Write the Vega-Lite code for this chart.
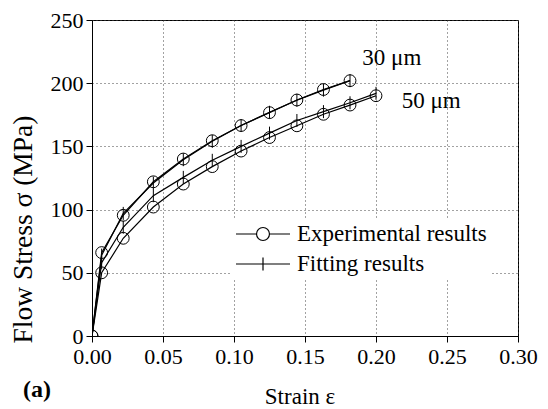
{
  "$schema": "https://vega.github.io/schema/vega-lite/v6.json",
  "width": 426,
  "height": 316,
  "autosize": {"type": "none"},
  "padding": {"left": 92, "top": 20, "right": 30, "bottom": 73},
  "background": "white",
  "config": {
    "view": {"stroke": "black", "strokeWidth": 1},
    "font": "Liberation Serif",
    "axis": {
      "labelFont": "Liberation Serif",
      "labelFontSize": 22,
      "labelColor": "black",
      "titleFont": "Liberation Serif",
      "titleFontWeight": "normal",
      "titleColor": "black",
      "domainColor": "black",
      "domainWidth": 1,
      "tickColor": "black",
      "tickWidth": 1,
      "grid": true,
      "gridColor": "#444444",
      "gridDash": [1, 3],
      "gridWidth": 1,
      "labelOverlap": false,
      "labelFlush": false
    }
  },
  "title": {
    "text": "(a)",
    "orient": "bottom",
    "anchor": "start",
    "frame": "group",
    "dx": -69,
    "offset": -30,
    "font": "Liberation Serif",
    "fontSize": 24,
    "fontWeight": "bold",
    "color": "black"
  },
  "data": {
    "values": [
      {"s": "30 μm", "t": "Experimental results", "x": 0, "y": 0},
      {"s": "30 μm", "t": "Experimental results", "x": 0.0068, "y": 66},
      {"s": "30 μm", "t": "Experimental results", "x": 0.022, "y": 95.5},
      {"s": "30 μm", "t": "Experimental results", "x": 0.0432, "y": 122},
      {"s": "30 μm", "t": "Experimental results", "x": 0.0643, "y": 140},
      {"s": "30 μm", "t": "Experimental results", "x": 0.0847, "y": 154.5},
      {"s": "30 μm", "t": "Experimental results", "x": 0.105, "y": 166.5},
      {"s": "30 μm", "t": "Experimental results", "x": 0.125, "y": 176.7},
      {"s": "30 μm", "t": "Experimental results", "x": 0.1443, "y": 186.7},
      {"s": "30 μm", "t": "Experimental results", "x": 0.163, "y": 195},
      {"s": "30 μm", "t": "Experimental results", "x": 0.1817, "y": 202},
      {"s": "30 μm", "t": "Fitting results", "x": 0, "y": 0},
      {"s": "30 μm", "t": "Fitting results", "x": 0.0068, "y": 64},
      {"s": "30 μm", "t": "Fitting results", "x": 0.022, "y": 97},
      {"s": "30 μm", "t": "Fitting results", "x": 0.0432, "y": 121},
      {"s": "30 μm", "t": "Fitting results", "x": 0.0643, "y": 139.5},
      {"s": "30 μm", "t": "Fitting results", "x": 0.0847, "y": 154},
      {"s": "30 μm", "t": "Fitting results", "x": 0.105, "y": 166.5},
      {"s": "30 μm", "t": "Fitting results", "x": 0.125, "y": 177},
      {"s": "30 μm", "t": "Fitting results", "x": 0.1443, "y": 186.5},
      {"s": "30 μm", "t": "Fitting results", "x": 0.163, "y": 194.5},
      {"s": "30 μm", "t": "Fitting results", "x": 0.1817, "y": 202},
      {"s": "50 μm", "t": "Experimental results", "x": 0, "y": 0},
      {"s": "50 μm", "t": "Experimental results", "x": 0.0068, "y": 50},
      {"s": "50 μm", "t": "Experimental results", "x": 0.022, "y": 77.3},
      {"s": "50 μm", "t": "Experimental results", "x": 0.0432, "y": 102},
      {"s": "50 μm", "t": "Experimental results", "x": 0.0643, "y": 120.2},
      {"s": "50 μm", "t": "Experimental results", "x": 0.0847, "y": 134},
      {"s": "50 μm", "t": "Experimental results", "x": 0.105, "y": 146.3},
      {"s": "50 μm", "t": "Experimental results", "x": 0.125, "y": 157},
      {"s": "50 μm", "t": "Experimental results", "x": 0.1443, "y": 166.3},
      {"s": "50 μm", "t": "Experimental results", "x": 0.163, "y": 175.4},
      {"s": "50 μm", "t": "Experimental results", "x": 0.1817, "y": 182.7},
      {"s": "50 μm", "t": "Experimental results", "x": 0.2, "y": 190.1},
      {"s": "50 μm", "t": "Fitting results", "x": 0, "y": 0},
      {"s": "50 μm", "t": "Fitting results", "x": 0.0068, "y": 58},
      {"s": "50 μm", "t": "Fitting results", "x": 0.022, "y": 86},
      {"s": "50 μm", "t": "Fitting results", "x": 0.0432, "y": 111},
      {"s": "50 μm", "t": "Fitting results", "x": 0.0643, "y": 125.5},
      {"s": "50 μm", "t": "Fitting results", "x": 0.0847, "y": 139},
      {"s": "50 μm", "t": "Fitting results", "x": 0.105, "y": 150},
      {"s": "50 μm", "t": "Fitting results", "x": 0.125, "y": 160.5},
      {"s": "50 μm", "t": "Fitting results", "x": 0.1443, "y": 170.5},
      {"s": "50 μm", "t": "Fitting results", "x": 0.163, "y": 177.5},
      {"s": "50 μm", "t": "Fitting results", "x": 0.1817, "y": 184.5},
      {"s": "50 μm", "t": "Fitting results", "x": 0.2, "y": 192}
    ]
  },
  "layer": [
    {
      "mark": {"type": "line", "strokeWidth": 1.2, "color": "black", "clip": true},
      "encoding": {
        "x": {
          "field": "x",
          "type": "quantitative",
          "scale": {"domain": [0, 0.3], "nice": false, "zero": false},
          "axis": {
            "values": [0, 0.025, 0.05, 0.075, 0.1, 0.125, 0.15, 0.175, 0.2, 0.225, 0.25, 0.275, 0.3],
            "format": ".2f",
            "labelExpr": "abs(datum.value*20-round(datum.value*20)) < 0.001 ? datum.label : ''",
            "tickSize": {"condition": {"test": "abs(datum.value*20-round(datum.value*20)) < 0.001", "value": 6}, "value": 3.5},
            "gridOpacity": {"condition": {"test": "abs(datum.value*20-round(datum.value*20)) < 0.001", "value": 1}, "value": 0},
            "labelPadding": 4,
            "title": "Strain ε",
            "titleFontSize": 23,
            "titleX": 207.5,
            "titleY": 67,
            "titleBaseline": "alphabetic",
            "titleAlign": "center"
          }
        },
        "y": {
          "field": "y",
          "type": "quantitative",
          "scale": {"domain": [0, 250], "nice": false},
          "axis": {
            "values": [0, 25, 50, 75, 100, 125, 150, 175, 200, 225, 250],
            "labelExpr": "datum.value % 50 === 0 ? datum.label : ''",
            "tickSize": {"condition": {"test": "datum.value % 50 === 0", "value": 6}, "value": 3.5},
            "gridOpacity": {"condition": {"test": "datum.value % 50 === 0", "value": 1}, "value": 0},
            "labelPadding": 3,
            "title": "Flow Stress σ (MPa)",
            "titleFontSize": 27.5,
            "titleAngle": 270,
            "titleX": -61,
            "titleY": 209,
            "titleBaseline": "alphabetic",
            "titleAlign": "center"
          }
        },
        "detail": [{"field": "s"}, {"field": "t"}]
      }
    },
    {
      "transform": [{"filter": "datum.t === 'Experimental results'"}],
      "mark": {"type": "point", "shape": "circle", "size": 140, "filled": false, "color": "black", "strokeWidth": 1, "opacity": 1, "clip": true},
      "encoding": {
        "x": {"field": "x", "type": "quantitative"},
        "y": {"field": "y", "type": "quantitative"}
      }
    },
    {
      "transform": [{"filter": "datum.t === 'Fitting results'"}],
      "mark": {"type": "point", "shape": "M0,-1L0,1", "size": 169, "filled": false, "color": "black", "strokeWidth": 1, "opacity": 1, "clip": true},
      "encoding": {
        "x": {"field": "x", "type": "quantitative"},
        "y": {"field": "y", "type": "quantitative"}
      }
    },
    {
      "transform": [{"filter": "false"}],
      "mark": {"type": "point", "filled": false, "color": "black", "strokeWidth": 1.2, "opacity": 1},
      "encoding": {
        "x": {"field": "x", "type": "quantitative"},
        "y": {"field": "y", "type": "quantitative"},
        "shape": {
          "field": "t",
          "type": "nominal",
          "scale": {
            "domain": ["Experimental results", "Fitting results"],
            "range": ["M-1,0L-0.24,0M0.24,0L1,0M-0.24,0A0.24,0.24,0,1,1,0.24,0A0.24,0.24,0,1,1,-0.24,0", "M-1,0L1,0M0,-0.24L0,0.24"]
          },
          "legend": {
            "orient": "none",
            "legendX": 140,
            "legendY": 200,
            "title": null,
            "fillColor": "white",
            "padding": 3,
            "symbolSize": 2916,
            "symbolStrokeWidth": 1.2,
            "symbolStrokeColor": "black",
            "symbolFillColor": "white",
            "symbolOpacity": 1,
            "clipHeight": 22,
            "labelFont": "Liberation Serif",
            "labelFontSize": 23,
            "labelColor": "black",
            "labelOffset": 6,
            "labelLimit": 400,
            "rowPadding": 7
          }
        }
      }
    },
    {
      "data": {
        "values": [
          {"x": 0.1904, "y": 214.4, "label": "30 μm"},
          {"x": 0.2181, "y": 180.1, "label": "50 μm"}
        ]
      },
      "mark": {"type": "text", "align": "left", "baseline": "alphabetic", "font": "Liberation Serif", "fontSize": 23, "color": "black"},
      "encoding": {
        "x": {"field": "x", "type": "quantitative"},
        "y": {"field": "y", "type": "quantitative"},
        "text": {"field": "label"}
      }
    }
  ]
}
